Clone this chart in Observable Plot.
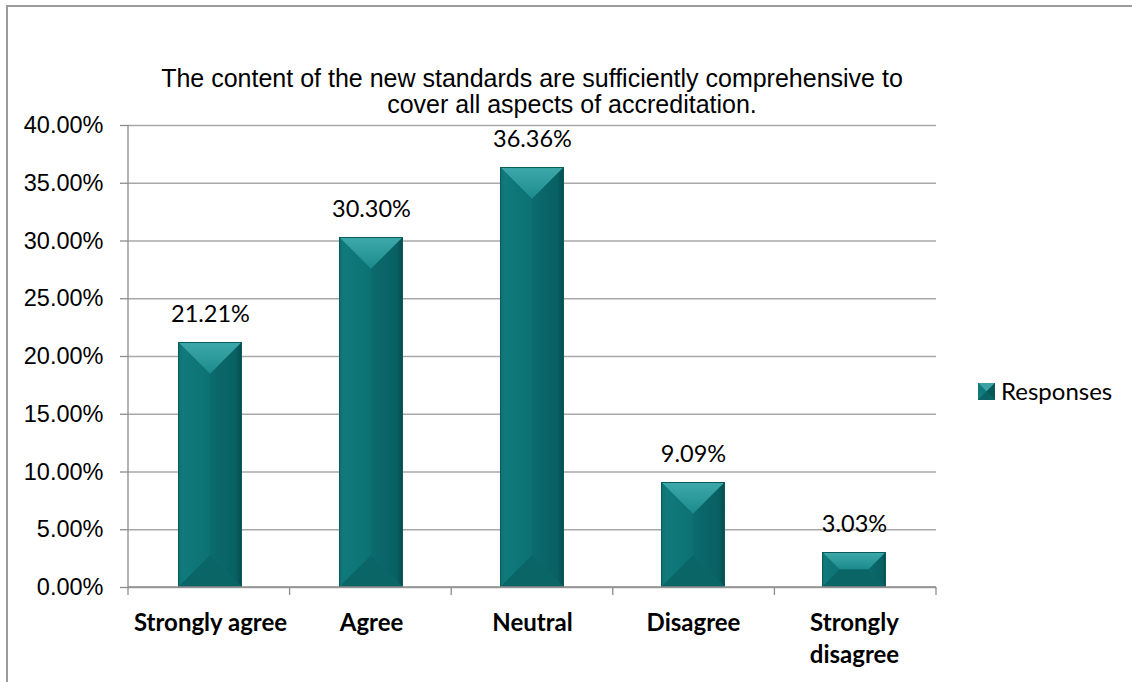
<!DOCTYPE html>
<html>
<head>
<meta charset="utf-8">
<script src="https://cdn.jsdelivr.net/npm/d3@7"></script>
<script src="https://cdn.jsdelivr.net/npm/@observablehq/plot@0.6"></script>
<style>
  html, body { margin: 0; padding: 0; background: #fff; overflow: hidden; }
  #wrap { position: relative; width: 1132px; height: 682px; overflow: hidden; background: #fff; }
  #border { position: absolute; left: 6px; top: 5px; width: 1200px; height: 800px; border: 2px solid #9b9b9b; box-sizing: border-box; }
  #chart { position: absolute; left: 0; top: 0; }
  .title { position: absolute; font-family: "Liberation Sans", Arial, sans-serif; font-size: 25px; color: #000; white-space: nowrap; transform: translateX(-50%); line-height: 1; }
  #legend { position: absolute; left: 978px; top: 379px; font-family: Lato, "Open Sans", sans-serif; font-size: 24px; color: #000; display: flex; align-items: center; gap: 6px; line-height: 1; }
</style>
</head>
<body>
<div id="wrap">
  <div id="border"></div>
  <div class="title" id="t1" style="left:532px; top:66px;"></div>
  <div class="title" id="t2" style="left:572px; top:92px;"></div>
  <div id="chart"></div>
  <div id="legend">
    <svg width="17" height="17" viewBox="0 0 17 17">
      <rect x="0" y="0" width="17" height="17" fill="#0b6b6d"/>
      <polygon points="0,0 17,0 8.5,8.5" fill="#3aa3a4"/>
      <polygon points="0,0 8.5,8.5 0,17" fill="#10797b"/>
      <polygon points="17,0 17,17 8.5,8.5" fill="#075859"/>
      <polygon points="0,17 17,17 8.5,8.5" fill="#0a6466"/>
    </svg>
    <span id="legendText"></span>
  </div>
</div>
<script>
// ---- data ----
const titleLines = ["The content of the new standards are sufficiently comprehensive to", "cover all aspects of accreditation."];
const categories = ["Strongly agree", "Agree", "Neutral", "Disagree", "Strongly disagree"];
const categoryLabels = ["Strongly agree", "Agree", "Neutral", "Disagree", "Strongly\ndisagree"];
const values = [21.21, 30.30, 36.36, 9.09, 3.03];
const yTicks = [0, 5, 10, 15, 20, 25, 30, 35, 40];
const seriesName = "Responses";

const data = categories.map((c, i) => ({cat: c, val: values[i]}));

document.getElementById("t1").textContent = titleLines[0];
document.getElementById("t2").textContent = titleLines[1];
document.getElementById("legendText").textContent = seriesName;

const W = 1132, H = 682;
const mL = 128, mR = 196, mT = 125, mB = 95;

function bevelRender(index, scales, vals, dims, ctx, next) {
  const g = next(index, scales, vals, dims, ctx);
  const ns = "http://www.w3.org/2000/svg";
  const rects = Array.from(g.querySelectorAll("rect"));
  for (const r of rects) {
    const x = +r.getAttribute("x"), y = +r.getAttribute("y");
    const w = +r.getAttribute("width"), h = +r.getAttribute("height");
    const d = Math.min(w / 2, h / 2);
    const faces = [
      {pts: [[x, y], [x + w, y], [x + w - d, y + d], [x + d, y + d]], fill: "url(#gTop)"},
      {pts: [[x, y + h], [x + w, y + h], [x + w - d, y + h - d], [x + d, y + h - d]], fill: "#0a6567"},
      {pts: [[x, y], [x + d, y + d], [x + d, y + h - d], [x, y + h]], fill: "url(#gLeft)"},
      {pts: [[x + w, y], [x + w - d, y + d], [x + w - d, y + h - d], [x + w, y + h]], fill: "url(#gRight)"}
    ];
    for (const f of faces) {
      const p = document.createElementNS(ns, "polygon");
      p.setAttribute("points", f.pts.map(q => q.join(",")).join(" "));
      p.setAttribute("fill", f.fill);
      g.appendChild(p);
    }
    const o = document.createElementNS(ns, "rect");
    o.setAttribute("x", x + 0.5); o.setAttribute("y", y + 0.5);
    o.setAttribute("width", Math.max(0, w - 1)); o.setAttribute("height", Math.max(0, h - 1));
    o.setAttribute("fill", "none"); o.setAttribute("stroke", "#0a5a5c"); o.setAttribute("stroke-width", 1);
    g.appendChild(o);
  }
  return g;
}

function axesLines(index, scales, vals, dims) {
  const ns = "http://www.w3.org/2000/svg";
  const g = document.createElementNS(ns, "g");
  g.setAttribute("stroke", "#8c8c8c");
  g.setAttribute("stroke-width", 1.3);
  const left = dims.marginLeft, right = dims.width - dims.marginRight;
  const bottom = dims.height - dims.marginBottom, top = dims.marginTop;
  const add = (x1, y1, x2, y2) => {
    const l = document.createElementNS(ns, "line");
    l.setAttribute("x1", x1); l.setAttribute("y1", y1);
    l.setAttribute("x2", x2); l.setAttribute("y2", y2);
    g.appendChild(l);
  };
  add(left, top, left, bottom);
  add(left, bottom, right, bottom);
  const n = categories.length, step = (right - left) / n;
  for (let i = 0; i <= n; i++) add(left + i * step, bottom, left + i * step, bottom + 8);
  return g;
}

const plot = Plot.plot({
  width: W, height: H,
  marginLeft: mL, marginRight: mR, marginTop: mT, marginBottom: mB,
  x: {domain: categories, paddingInner: 0.6, paddingOuter: 0.3, label: null},
  y: {domain: [0, 40], label: null},
  style: {background: "transparent", overflow: "visible"},
  marks: [
    Plot.gridY(yTicks, {stroke: "#a8a8a8", strokeOpacity: 1, strokeWidth: 1.3}),
    Plot.axisY({ticks: yTicks, tickSize: 8, tickPadding: 17, tickFormat: d => d.toFixed(2) + "%",
      fontSize: 23.5, fontFamily: "Liberation Sans, Arial, sans-serif", stroke: "#8c8c8c", strokeWidth: 1.3, label: null, fill: "#000"}),
    Plot.axisX({tickSize: 0, tickPadding: 20, tickFormat: c => categoryLabels[categories.indexOf(c)],
      fontSize: 24, fontWeight: "bold", fontFamily: "Lato, Open Sans, sans-serif", lineHeight: 1.35, label: null, fill: "#000"}),
    Plot.barY(data, {x: "cat", y: "val", fill: "#0b6e70", render: bevelRender}),
    axesLines,
    Plot.text(data, {x: "cat", y: "val", text: d => d.val.toFixed(2) + "%", dy: -28,
      fontSize: 23.5, fontFamily: "Lato, Open Sans, sans-serif", fill: "#000"})
  ]
});

const ns = "http://www.w3.org/2000/svg";
const defs = document.createElementNS(ns, "defs");
defs.innerHTML = `
  <linearGradient id="gTop" x1="0" y1="0" x2="0" y2="1">
    <stop offset="0" stop-color="#3ea9aa"/>
    <stop offset="1" stop-color="#1c8a8c"/>
  </linearGradient>
  <linearGradient id="gLeft" x1="0" y1="0" x2="1" y2="0">
    <stop offset="0" stop-color="#0d7072"/>
    <stop offset="0.15" stop-color="#107a7c"/>
    <stop offset="1" stop-color="#0d7173"/>
  </linearGradient>
  <linearGradient id="gRight" x1="0" y1="0" x2="1" y2="0">
    <stop offset="0" stop-color="#0b6b6d"/>
    <stop offset="0.8" stop-color="#086062"/>
    <stop offset="1" stop-color="#064b4d"/>
  </linearGradient>`;
plot.insertBefore(defs, plot.firstChild);
document.getElementById("chart").appendChild(plot);
</script>
</body>
</html>
